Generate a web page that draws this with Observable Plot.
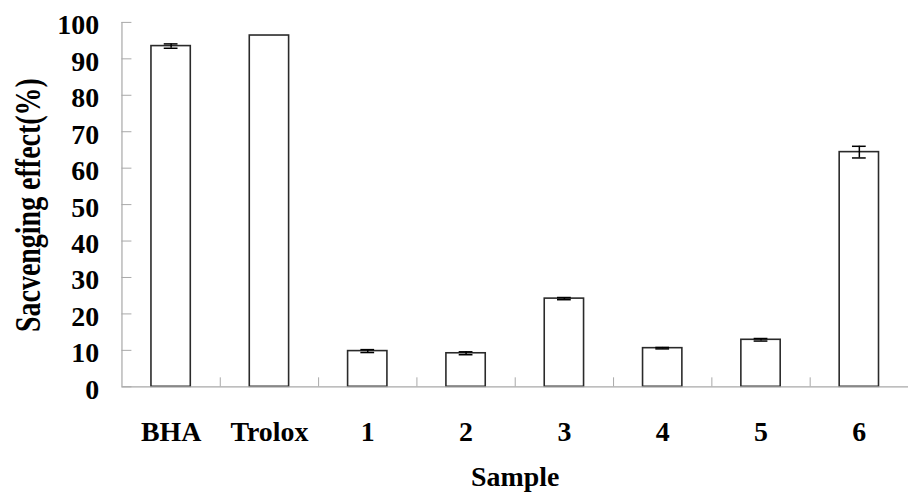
<!DOCTYPE html>
<html><head><meta charset="utf-8">
<script src="https://cdn.jsdelivr.net/npm/d3@7"></script>
<script src="https://cdn.jsdelivr.net/npm/@observablehq/plot@0.6"></script>
<style>html,body{margin:0;padding:0;background:#fff;overflow:hidden}</style>
</head><body><div id="chart"></div>
<script>
const samples = ["BHA", "Trolox", "1", "2", "3", "4", "5", "6"];
const values = [93.5, 96.4, 9.8, 9.2, 24.2, 10.6, 12.9, 64.4];
const errors = [0.6, 0, 0.4, 0.4, 0.3, 0.2, 0.35, 1.6];
const yTicks = [0, 10, 20, 30, 40, 50, 60, 70, 80, 90, 100];
const yLabel = "Sacvenging effect(%)";
const xLabel = "Sample";

const data = samples.map((s, i) => ({sample: s, i, value: values[i], err: errors[i]}));
const withErr = data.filter(d => d.err > 0);
const caps = withErr.flatMap(d => [{i: d.i, y: d.value - d.err}, {i: d.i, y: d.value + d.err}]);
const boundaries = samples.slice(1).map((_, i) => i + 0.5);
const halfBar = 0.2, halfCap = 0.07;
const axisGray = "#a8a8a8";

const chart = Plot.plot({
  width: 912, height: 495,
  marginLeft: 122, marginRight: 0, marginTop: 22, marginBottom: 107,
  x: {domain: [-0.5, samples.length - 0.5]},
  y: {domain: [0, 100]},
  style: {fontFamily: "'Liberation Serif', 'Times New Roman', serif", fontWeight: "bold", fontSize: "28px", color: "#000", background: "#fff"},
  marks: [
    Plot.rectY(data, {x1: d => d.i - halfBar, x2: d => d.i + halfBar, y: "value", fill: "white", stroke: "#2a2a2a", strokeWidth: 1.6}),
    Plot.ruleX(withErr, {x: "i", y1: d => d.value - d.err, y2: d => d.value + d.err, stroke: "#000", strokeWidth: 1.5}),
    Plot.ruleY(caps, {x1: d => d.i - halfCap, x2: d => d.i + halfCap, y: "y", stroke: "#000", strokeWidth: 1.5}),
    Plot.ruleY([0], {stroke: axisGray, strokeWidth: 1.2}),
    Plot.ruleX([-0.5], {stroke: axisGray, strokeWidth: 1.2}),
    Plot.axisY(yTicks, {tickSize: 10, dx: 10, stroke: axisGray, fill: "none", label: null}),
    Plot.axisY(yTicks, {tickSize: 0, tickPadding: 23, dy: 3, fontSize: 28, fill: "#000", label: null}),
    Plot.axisX(boundaries, {tickSize: 9, dy: -9, stroke: axisGray, fill: "none", label: null}),
    Plot.axisX(data.map(d => d.i), {tickSize: 0, tickPadding: 35, tickFormat: i => samples[i], fontSize: 28, fill: "#000", label: null}),
    Plot.text([xLabel], {frameAnchor: "bottom", lineAnchor: "top", dy: 80, fontSize: 28, fill: "#000"}),
    Plot.text([yLabel], {frameAnchor: "left", lineAnchor: "top", textAnchor: "start", rotate: -90, dx: -107, dy: 128, fontSize: 35, fill: "#000"})
  ]
});
document.getElementById("chart").appendChild(chart);
d3.select(chart).selectAll("text").filter(function() { return this.textContent === yLabel; })
  .attr("textLength", 255).attr("lengthAdjust", "spacingAndGlyphs");
</script>
</body></html>
